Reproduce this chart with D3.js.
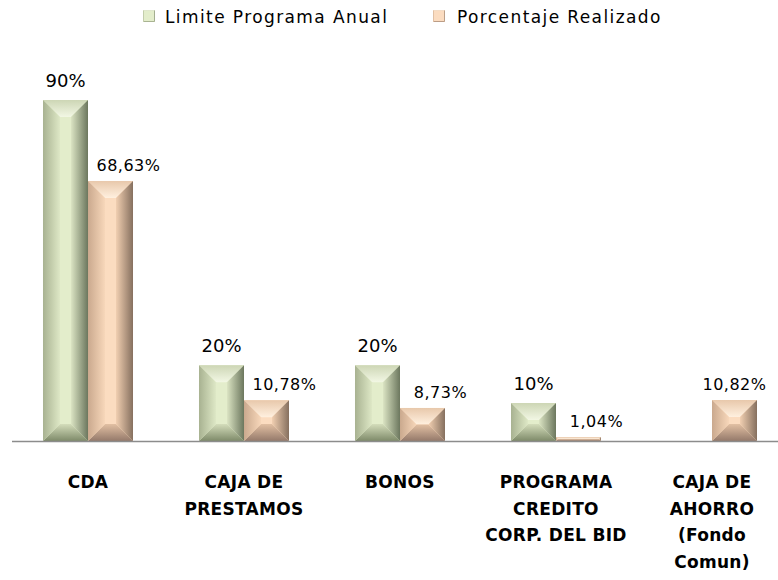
<!DOCTYPE html>
<html>
<head>
<meta charset="utf-8">
<script src="https://cdn.jsdelivr.net/npm/d3@7/dist/d3.min.js"></script>
<style>
  html, body { margin: 0; padding: 0; background: #fff; }
  svg { display: block; font-family: "DejaVu Sans", "Open Sans", sans-serif; }
</style>
</head>
<body>
<svg id="chart" width="778" height="580"></svg>
<script>
// chart data
var categories = [
  [ 'CDA' ],
  [ 'CAJA DE', 'PRESTAMOS' ],
  [ 'BONOS' ],
  [ 'PROGRAMA', 'CREDITO', 'CORP. DEL BID' ],
  [ 'CAJA DE', 'AHORRO', '(Fondo', 'Comun)' ]
];
var seriesNames = [ 'Limite Programa Anual', 'Porcentaje Realizado' ];
var limite     = [ 90, 20, 20, 10, null ];
var realizado  = [ 68.63, 10.78, 8.73, 1.04, 10.82 ];

var svg = d3.select( '#chart' ),
    baseY = 441,
    topY  = 100,
    bevelMax = 17;

var palettes = {
  limite : {
    face   : '#e3edcb',
    top    : [ '#cdd6b5', '#f2f7e4' ],
    left   : [ '#a8b291', '#dee8c6' ],
    right  : [ '#dbe4c3', '#6c775e' ],
    bottom : [ '#d4ddbb', '#7e8a69' ]
  },
  realizado : {
    face   : '#fbdcc0',
    top    : [ '#e8c8ab', '#fff0df' ],
    left   : [ '#caa98e', '#f7d7ba' ],
    right  : [ '#f1cfb1', '#86705f' ],
    bottom : [ '#e2c0a3', '#94796a' ]
  }
};

var locale = d3.formatLocale( { decimal: ',', thousands: '.', grouping: [ 3 ], currency: [ '', '' ] } );
var fmtInt = function( v ) { return v + '%'; },
    fmtDec = function( v ) { return locale.format( '.2f' )( v ) + '%'; };

var x = d3.scaleBand()
  .domain( d3.range( categories.length ) )
  .range( [ 10, 790 ] )
  .paddingInner( 0.423 )
  .paddingOuter( 0.2115 );

var xs = d3.scaleBand()
  .domain( [ 'limite', 'realizado' ] )
  .range( [ 0, x.bandwidth() ] );

var y = d3.scaleLinear().domain( [ 0, 90 ] ).range( [ baseY, topY ] );

// gradients, one per face and series
var defs = svg.append( 'defs' );
var dirs = {
  top    : { x1: 0, y1: 0, x2: 0, y2: 1 },
  bottom : { x1: 0, y1: 0, x2: 0, y2: 1 },
  left   : { x1: 0, y1: 0, x2: 1, y2: 0 },
  right  : { x1: 0, y1: 0, x2: 1, y2: 0 }
};
Object.keys( palettes ).forEach( function( key ) {
  Object.keys( dirs ).forEach( function( face ) {
    var g = defs.append( 'linearGradient' )
      .attr( 'id', key + '-' + face )
      .attr( 'x1', dirs[ face ].x1 ).attr( 'y1', dirs[ face ].y1 )
      .attr( 'x2', dirs[ face ].x2 ).attr( 'y2', dirs[ face ].y2 );
    g.append( 'stop' ).attr( 'offset', 0 ).attr( 'stop-color', palettes[ key ][ face ][ 0 ] );
    g.append( 'stop' ).attr( 'offset', 1 ).attr( 'stop-color', palettes[ key ][ face ][ 1 ] );
  } );
} );

function pts( arr ) {
  return arr.map( function( p ) { return p.join( ',' ); } ).join( ' ' );
}

// draws one bevelled box into group g
function bevelBar( g, key, bx, by, w, h, maxB ) {
  var b = Math.min( maxB, h / 2, w / 2 - 5 );
  if ( b < 0 ) b = 0;
  g.append( 'rect' )
    .attr( 'x', bx ).attr( 'y', by ).attr( 'width', w ).attr( 'height', h )
    .attr( 'fill', palettes[ key ].face );
  g.append( 'polygon' ).attr( 'fill', 'url(#' + key + '-top)' )
    .attr( 'points', pts( [ [ bx, by ], [ bx + w, by ], [ bx + w - b, by + b ], [ bx + b, by + b ] ] ) );
  g.append( 'polygon' ).attr( 'fill', 'url(#' + key + '-bottom)' )
    .attr( 'points', pts( [ [ bx + b, by + h - b ], [ bx + w - b, by + h - b ], [ bx + w, by + h ], [ bx, by + h ] ] ) );
  g.append( 'polygon' ).attr( 'fill', 'url(#' + key + '-left)' )
    .attr( 'points', pts( [ [ bx, by ], [ bx + b, by + b ], [ bx + b, by + h - b ], [ bx, by + h ] ] ) );
  g.append( 'polygon' ).attr( 'fill', 'url(#' + key + '-right)' )
    .attr( 'points', pts( [ [ bx + w - b, by + b ], [ bx + w, by ], [ bx + w, by + h ], [ bx + w - b, by + h - b ] ] ) );
}

var rows = categories.map( function( c, i ) {
  return { i: i, limite: limite[ i ], realizado: realizado[ i ] };
} );

var groups = svg.append( 'g' ).attr( 'class', 'bars' )
  .selectAll( 'g' )
  .data( rows )
  .enter().append( 'g' )
  .attr( 'transform', function( d ) { return 'translate(' + x( d.i ) + ',0)'; } );

groups.each( function( d ) {
  var g = d3.select( this );
  [ 'limite', 'realizado' ].forEach( function( key ) {
    var v = d[ key ];
    if ( v === null ) return;
    var by = y( v ), h = baseY - by;
    bevelBar( g.append( 'g' ), key, xs( key ), by, xs.bandwidth(), h, bevelMax );

    var big = key === 'limite',
        // realizado labels are nudged right when a limite bar sits beside them
        shift = ( !big && d.limite !== null ) ? 18 : 0;
    g.append( 'text' )
      .attr( 'x', xs( key ) + xs.bandwidth() / 2 + shift )
      .attr( 'y', by - ( big ? 13 : 10 ) )
      .attr( 'text-anchor', 'middle' )
      .attr( 'font-size', big ? 18 : 16 )
      .attr( 'letter-spacing', big ? 0 : 0.5 )
      .attr( 'fill', '#000' )
      .text( big ? fmtInt( v ) : fmtDec( v ) );
  } );
} );

// baseline
svg.append( 'line' )
  .attr( 'x1', 12 ).attr( 'x2', 778 )
  .attr( 'y1', baseY + 0.5 ).attr( 'y2', baseY + 0.5 )
  .attr( 'stroke', '#8c8c8c' ).attr( 'stroke-width', 1.6 );

// category labels
var labels = svg.append( 'g' ).attr( 'class', 'cat-labels' )
  .selectAll( 'text' )
  .data( rows )
  .enter().append( 'text' )
  .attr( 'text-anchor', 'middle' )
  .attr( 'font-weight', 'bold' )
  .attr( 'font-size', 17 )
  .attr( 'letter-spacing', 0.3 )
  .attr( 'fill', '#000' );

labels.selectAll( 'tspan' )
  .data( function( d ) { return categories[ d.i ]; } )
  .enter().append( 'tspan' )
  .attr( 'x', function() { return x( this.parentNode.__data__.i ) + x.bandwidth() / 2; } )
  .attr( 'y', function( d, j ) { return 488 + j * 26.7; } )
  .text( function( d ) { return d; } );

// legend
var legendItems = [
  { key: 'limite', name: seriesNames[ 0 ], sx: 143, tx: 165 },
  { key: 'realizado', name: seriesNames[ 1 ], sx: 433, tx: 457 }
];
var legend = svg.append( 'g' ).attr( 'class', 'legend' );
legendItems.forEach( function( it ) {
  bevelBar( legend.append( 'g' ), it.key, it.sx, 10, 12, 12, 6 );
  legend.append( 'text' )
    .attr( 'x', it.tx ).attr( 'y', 23 )
    .attr( 'font-size', 17 )
    .attr( 'letter-spacing', 1.4 )
    .attr( 'fill', '#000' )
    .text( it.name );
} );
</script>
</body>
</html>
